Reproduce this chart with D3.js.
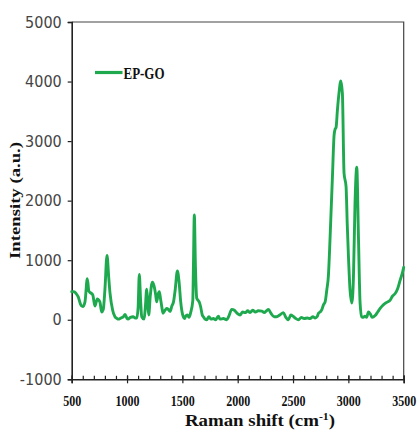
<!DOCTYPE html>
<html>
<head>
<meta charset="utf-8">
<script src="https://cdn.jsdelivr.net/npm/d3@7"></script>
<style>
  html, body { margin: 0; padding: 0; background: #ffffff; }
  svg { display: block; }
</style>
</head>
<body>
<svg id="chart" width="417" height="432"></svg>
<script>
// Raman spectrum of EP-GO
const seriesName = "EP-GO";

const ramanShift = [
  500, 520, 540, 560, 580, 600, 620, 641, 655, 665, 690, 710, 731, 745, 756, 771, 785,
  800, 819, 835, 846, 870, 891, 910, 921, 945, 967, 982, 1000, 1009, 1030, 1055, 1075,
  1088, 1100, 1111, 1122, 1133, 1154, 1165, 1178, 1186, 1196, 1210, 1229, 1245, 1258,
  1268, 1280, 1292, 1303, 1314, 1325, 1340, 1359, 1375, 1389, 1405, 1420, 1435, 1455,
  1470, 1485, 1503, 1520, 1530, 1545, 1560, 1575, 1594, 1600, 1608, 1618, 1630, 1645,
  1654, 1665, 1680, 1690, 1705, 1720, 1740, 1760, 1780, 1800, 1825, 1840, 1870, 1901,
  1920, 1946, 1970, 1995, 2021, 2045, 2070, 2090, 2112, 2135, 2160, 2185, 2218, 2240,
  2260, 2278, 2300, 2330, 2353, 2380, 2413, 2435, 2458, 2480, 2500, 2525, 2549, 2575,
  2600, 2630, 2654, 2680, 2700, 2720, 2730, 2750, 2760, 2775, 2790, 2805, 2820, 2831,
  2841, 2856, 2871, 2880, 2889, 2901, 2915, 2932, 2946, 2961, 2979, 2990, 3000, 3015,
  3031, 3046, 3060, 3076, 3091, 3106, 3121, 3135, 3150, 3165, 3181, 3200, 3215, 3242,
  3265, 3287, 3310, 3332, 3355, 3378, 3400, 3423, 3445, 3468, 3490, 3500
];

const intensity = [
  470, 470, 440, 380, 260, 220, 300, 690, 480, 460, 420, 230, 350, 330, 290, 130, 170,
  500, 1080, 700, 450, 160, 50, 20, 10, 30, 50, 90, 20, 10, 40, 50, 30,
  30, 200, 760, 350, 50, 10, 200, 515, 300, 80, 400, 630, 560, 430,
  300, 420, 470, 350, 220, 110, 150, 190, 170, 140, 230, 300, 500, 820,
  640, 300, 80, 20, 60, 80, 40, 120, 315, 900, 1760, 900, 360, 320,
  290, 218, 80, 50, 10, 0, 50, 10, 20, 0, 60, 10, 20, 0,
  60, 175, 160, 110, 80, 130, 120, 150, 120, 160, 130, 150, 145, 120,
  150, 175, 110, 50, 50, 80, 120, 40, 0, 80, 60, 20, 0, 40,
  20, 30, 20, 50, 30, 60, 110, 140, 170, 250, 300, 500, 750, 1200,
  1680, 2400, 3100, 3200, 3230, 3520, 3800, 4010, 3800, 2460, 2240, 1600, 1100, 500,
  280, 720, 1950, 2560, 1400, 280, 50, 40, 60, 40, 130, 90, 40, 70,
  130, 190, 240, 275, 300, 330, 400, 440, 520, 665, 800, 880
];

const xTickValues = [500, 1000, 1500, 2000, 2500, 3000, 3500];
const xMinorTickValues = d3.range(500, 3501, 100);
const yTickValues = [-1000, 0, 1000, 2000, 3000, 4000, 5000];

const xTitle = "Raman shift (cm";
const xTitleSup = "-1";
const yTitle = "Intensity (a.u.)";

const lineColor = "#1fa94f";
const plot = { left: 71.7, right: 403.7, top: 22, bottom: 379.3 };

// plain integer labels with an ASCII hyphen for negatives
const intLabel = d => String(d);

const svg = d3.select("#chart");

const x = d3.scaleLinear().domain([500, 3500]).range([plot.left, plot.right]);
const y = d3.scaleLinear().domain([-1000, 5000]).range([plot.bottom, plot.top]);

// frame: top and right edges
svg.append("path")
  .attr("d", `M${plot.left},${plot.top}H${plot.right}V${plot.bottom}`)
  .attr("fill", "none")
  .attr("stroke", "#444")
  .attr("stroke-width", 1.2);

// minor ticks on the x axis, pointing up into the plot
svg.append("g")
  .attr("transform", `translate(0,${plot.bottom})`)
  .call(d3.axisBottom(x).tickValues(xMinorTickValues).tickSize(-3.5).tickFormat(""))
  .call(g => g.select(".domain").remove())
  .call(g => g.selectAll("line").attr("stroke", "#222").attr("stroke-width", 1.2));

// major x axis: ticks cross the axis line
const xAxis = svg.append("g")
  .attr("transform", `translate(0,${plot.bottom})`)
  .call(d3.axisBottom(x).tickValues(xTickValues).tickSizeOuter(0).tickSize(4).tickPadding(12).tickFormat(intLabel));
xAxis.select(".domain").attr("stroke", "#222").attr("stroke-width", 1.6);
xAxis.selectAll(".tick line").attr("y1", -4).attr("stroke", "#222").attr("stroke-width", 1.2);
xAxis.selectAll(".tick text")
  .attr("font-family", "'Liberation Serif', 'Times New Roman', serif")
  .attr("font-weight", "bold")
  .attr("font-size", 15)
  .attr("fill", "#111")
  .attr("transform", "scale(0.8,1)");

// y axis
const yAxis = svg.append("g")
  .attr("transform", `translate(${plot.left},0)`)
  .call(d3.axisLeft(y).tickValues(yTickValues).tickSizeOuter(0).tickSize(4).tickPadding(6).tickFormat(intLabel));
yAxis.select(".domain").attr("stroke", "#222").attr("stroke-width", 1.6);
yAxis.selectAll(".tick line").attr("stroke", "#222").attr("stroke-width", 1.2);
yAxis.selectAll(".tick text")
  .attr("font-family", "'Liberation Sans Narrow', 'DejaVu Sans Condensed', sans-serif")
  .attr("font-size", 16)
  .attr("fill", "#444");

// spectrum
const points = ramanShift.map((s, i) => [s, intensity[i]]);
const line = d3.line()
  .x(d => x(d[0]))
  .y(d => y(d[1]))
  .curve(d3.curveMonotoneX);

svg.append("path")
  .datum(points)
  .attr("d", line)
  .attr("fill", "none")
  .attr("stroke", lineColor)
  .attr("stroke-width", 2.9)
  .attr("stroke-linejoin", "round")
  .attr("stroke-linecap", "round");

// legend
svg.append("line")
  .attr("x1", 95).attr("x2", 122.5)
  .attr("y1", 72.5).attr("y2", 72.5)
  .attr("stroke", lineColor)
  .attr("stroke-width", 3.2);
svg.append("text")
  .attr("x", 123.5).attr("y", 78.5)
  .attr("font-family", "'Liberation Serif', 'Times New Roman', serif")
  .attr("font-weight", "bold")
  .attr("font-size", 17)
  .attr("fill", "#111")
  .attr("textLength", 41)
  .attr("lengthAdjust", "spacingAndGlyphs")
  .text(seriesName);

// axis titles
const xt = svg.append("text")
  .attr("x", 260).attr("y", 426)
  .attr("text-anchor", "middle")
  .attr("font-family", "'Liberation Serif', 'Times New Roman', serif")
  .attr("font-weight", "bold")
  .attr("font-size", 16)
  .attr("fill", "#111");
xt.append("tspan").text(xTitle);
xt.append("tspan").attr("font-size", 10).attr("dy", -6).text(xTitleSup);
xt.append("tspan").attr("dy", 6).text(")");
// keep the title narrow like the tick labels
{
  const bb = xt.node().getBBox();
  const cx = bb.x + bb.width / 2;
  xt.attr("transform", `translate(${cx},0) scale(${150 / bb.width},1) translate(${-cx},0)`);
}

svg.append("text")
  .attr("transform", "translate(20,200.5) rotate(-90)")
  .attr("text-anchor", "middle")
  .attr("font-family", "'Liberation Serif', 'Times New Roman', serif")
  .attr("font-weight", "bold")
  .attr("font-size", 14)
  .attr("fill", "#111")
  .attr("textLength", 117)
  .attr("lengthAdjust", "spacingAndGlyphs")
  .text(yTitle);
</script>
</body>
</html>
